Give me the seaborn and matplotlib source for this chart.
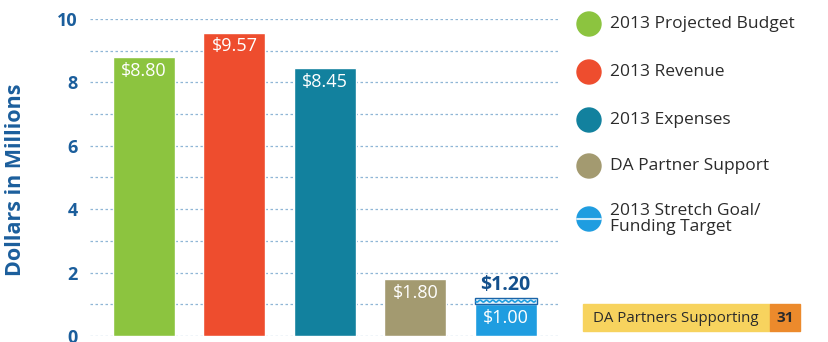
import matplotlib
matplotlib.use("Agg")
import matplotlib.pyplot as plt
from matplotlib.patches import Rectangle, Circle
import numpy as np
import pandas as pd
import seaborn as sns

categories = ["2013 Projected Budget", "2013 Revenue", "2013 Expenses",
              "DA Partner Support", "2013 Funding Target"]
values = [8.80, 9.57, 8.45, 1.80, 1.00]
bar_labels = ["$8.80", "$9.57", "$8.45", "$1.80", "$1.00"]
stretch_goal = 1.20
stretch_label = "$1.20"
legend_labels = ["2013 Projected Budget", "2013 Revenue", "2013 Expenses",
                 "DA Partner Support", "2013 Stretch Goal/\nFunding Target"]
colors = ["#8cc43f", "#ee4d2e", "#12819e", "#a39a70", "#1f9de0"]
y_ticks = [0, 2, 4, 6, 8, 10]
partners_text = "DA Partners Supporting"
partners_count = "31"

sns.set_theme(style="white")
plt.rcParams["font.family"] = ["Open Sans", "DejaVu Sans"]

W, H = 829, 342
fig = plt.figure(figsize=(W / 100, H / 100), dpi=100)
fig.patch.set_facecolor("#ffffff")

# chart axes placed in pixel terms
x0, x1, ytop, ybot = 90, 560, 19, 336
ax = fig.add_axes([x0 / W, 1 - ybot / H, (x1 - x0) / W, (ybot - ytop) / H])
ax.set_facecolor("none")

df = pd.DataFrame({"category": categories, "value": values})
sns.barplot(data=df, x="category", y="value", hue="category",
            palette=colors, legend=False, width=0.685, saturation=1,
            ax=ax, zorder=3)

# stretch-goal band on top of the funding-target bar
ax.bar(4, stretch_goal - values[4], bottom=values[4], width=0.685,
       color="#e9f5fc", edgecolor="#1a64a8", linewidth=1.0, zorder=3)
wx = np.linspace(4 - 0.33, 4 + 0.33, 200)
ax.plot(wx, values[4] + 0.1 + 0.03 * np.sin(wx * 90), color="#1f9de0",
        lw=1.2, zorder=4)

ax.set_xlim(-0.597, 4.6)
ax.set_ylim(0, 10)
for yv in range(0, 11):
    ax.axhline(yv, color="#8fb6d6", lw=0.9, ls=(0, (2, 2)), zorder=1)

ax.set_yticks(y_ticks)
ax.set_yticklabels([str(t) for t in y_ticks], fontsize=13, fontweight="bold",
                   color="#1b5e9c")
ax.tick_params(axis="y", length=0, pad=9)
ax.set_xticks([])
ax.set_xlabel("")
ax.set_ylabel("Dollars in Millions", fontsize=15.5, fontweight="bold",
              color="#1b5e9c")
ax.yaxis.set_label_coords((26 - x0) / (x1 - x0), (ybot - 180) / (ybot - ytop))
for s in ax.spines.values():
    s.set_visible(False)

for i, (v, lab) in enumerate(zip(values, bar_labels)):
    ax.text(i, v - 0.15, lab, ha="center", va="top", color="white",
            fontsize=13, zorder=5)
ax.text(4, stretch_goal + 0.1, stretch_label, ha="center", va="bottom",
        color="#14508c", fontsize=14, fontweight="bold", zorder=5)

# legend panel in pixel coordinates
lg = fig.add_axes([0, 0, 1, 1])
lg.set_xlim(0, W)
lg.set_ylim(H, 0)
lg.axis("off")
lg.patch.set_alpha(0)
rows = [24, 72, 120, 166, 219]
for c, lab, y in zip(colors, legend_labels, rows):
    lg.add_patch(Circle((589, y), 12, color=c, zorder=2))
    lg.text(610, y, lab, va="center", ha="left", fontsize=12.5,
            color="#2b2b2b", linespacing=1.0)
lg.plot([577, 601], [219, 219], color="#cfeaf9", lw=1.5, zorder=3)

lg.add_patch(Rectangle((583, 304), 187, 27, color="#f7d35e", zorder=1))
lg.add_patch(Rectangle((770, 304), 30, 27, color="#ec8a2c", zorder=1))
lg.text(593, 318, partners_text, va="center", ha="left", fontsize=10.8,
        color="#2b2b2b")
lg.text(785, 318, partners_count, va="center", ha="center", fontsize=11,
        fontweight="bold", color="#2b2b2b")

fig.savefig("out.png", dpi=100)
